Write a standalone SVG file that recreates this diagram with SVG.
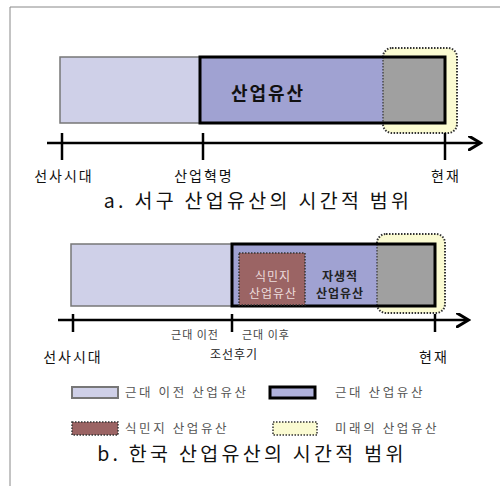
<svg xmlns="http://www.w3.org/2000/svg" width="500" height="486" viewBox="0 0 500 486">
<style>
.t{font-family:"Noto Sans CJK KR","Noto Sans",sans-serif;fill:#222}
.cap{font-family:"Noto Sans CJK KR","Liberation Sans",sans-serif;font-size:19.5px;letter-spacing:3.3px;fill:#111}
.lbl{font-size:14px;letter-spacing:2px;fill:#111}
.sm{font-size:11px;letter-spacing:1px;fill:#444}
.leg{font-size:12.5px;letter-spacing:2.6px;fill:#555}
.light{fill:#cfd0e8;stroke:#777;stroke-width:1.5}
.dark{fill:#a0a2d2}
.gray{fill:#a0a0a0}
.bord{fill:none;stroke:#000;stroke-width:3}
.fut{fill:#fbfbd2;stroke:#333;stroke-width:2;stroke-dasharray:1.5 1.5}
.dotv{stroke:#333;stroke-width:1.2;stroke-dasharray:1.5 1.5}
.col{fill:#9b6464;stroke:#333;stroke-width:1.5;stroke-dasharray:1.5 1.5}
.axis{stroke:#000;stroke-width:2.5;fill:none}
.tick{stroke:#000;stroke-width:2.5}
</style>
<defs>
<marker id="arr" markerWidth="6" markerHeight="6" refX="4" refY="3" orient="auto" markerUnits="strokeWidth">
<path d="M0,0 L5,3 L0,6" fill="none" stroke="#000" stroke-width="1.2"/>
</marker>
</defs>
<rect width="500" height="486" fill="#fff"/>
<path d="M10,486 V7 H500" fill="none" stroke="#888" stroke-width="1"/>

<g id="panel-a">
<g id="a-future"><rect class="fut" x="383" y="48" width="74" height="85" rx="9"/></g>
<g id="a-premodern"><rect class="light" x="60" y="57" width="140" height="66"/></g>
<g id="a-industrial">
<rect class="dark" x="200" y="57" width="245" height="66"/>
<rect class="gray" x="383" y="57" width="62" height="66"/>
<line class="dotv" x1="383" y1="57" x2="383" y2="123"/>
<rect class="bord" x="200" y="57" width="245" height="66"/>
<text class="t" x="268" y="100" font-size="18" font-weight="bold" letter-spacing="2" text-anchor="middle" style="fill:#111">산업유산</text>
</g>
<g id="a-axis">
<line class="axis" x1="47" y1="143" x2="478" y2="143" marker-end="url(#arr)"/>
<line class="tick" x1="62" y1="133" x2="62" y2="160"/>
<line class="tick" x1="203" y1="133" x2="203" y2="160"/>
<line class="tick" x1="445" y1="133" x2="445" y2="160"/>
</g>
<text class="t lbl" x="64" y="181" text-anchor="middle">선사시대</text>
<text class="t lbl" x="204" y="181" text-anchor="middle">산업혁명</text>
<text class="t lbl" x="446" y="181" text-anchor="middle">현재</text>
<text class="cap" x="258" y="208" text-anchor="middle">a. 서구 산업유산의 시간적 범위</text>
</g>

<g id="panel-b">
<g id="b-future"><rect class="fut" x="377" y="234" width="68" height="79" rx="9"/></g>
<g id="b-premodern"><rect class="light" x="71" y="244" width="161" height="62"/></g>
<g id="b-modern">
<rect class="dark" x="232" y="244" width="203" height="62"/>
<rect class="gray" x="377" y="244" width="58" height="62"/>
<line class="dotv" x1="377" y1="244" x2="377" y2="306"/>
<rect class="bord" x="232" y="244" width="203" height="62"/>
</g>
<g id="b-colonial">
<rect class="col" x="239" y="253" width="66" height="52"/>
<text class="t" x="273" y="281" font-size="12" letter-spacing="1" text-anchor="middle" style="fill:#ecdcdc">식민지</text>
<text class="t" x="273" y="298" font-size="12" letter-spacing="1" text-anchor="middle" style="fill:#ecdcdc">산업유산</text>
</g>
<g id="b-native">
<text class="t" x="340" y="281" font-size="12" font-weight="bold" letter-spacing="1" text-anchor="middle">자생적</text>
<text class="t" x="340" y="298" font-size="12" font-weight="bold" letter-spacing="1" text-anchor="middle">산업유산</text>
</g>
<g id="b-axis">
<line class="axis" x1="58" y1="320" x2="466" y2="320" marker-end="url(#arr)"/>
<line class="tick" x1="73" y1="314" x2="73" y2="332"/>
<line class="tick" x1="232" y1="314" x2="232" y2="332"/>
<line class="tick" x1="435" y1="314" x2="435" y2="332"/>
</g>
<text class="t sm" x="219" y="339" text-anchor="end">근대 이전</text>
<text class="t sm" x="242" y="339">근대 이후</text>
<text class="t lbl" x="73" y="362" text-anchor="middle" font-size="14">선사시대</text>
<text class="t" x="234" y="359" text-anchor="middle" font-size="12" letter-spacing="1">조선후기</text>
<text class="t lbl" x="434" y="362" text-anchor="middle" font-size="14">현재</text>

<g id="legend">
<rect class="light" x="72" y="387" width="46" height="11" style="stroke-width:2"/>
<text class="t leg" x="125" y="397">근대 이전 산업유산</text>
<rect x="270" y="387" width="45" height="11" fill="#b0b2dc" stroke="#000" stroke-width="3"/>
<text class="t leg" x="335" y="397">근대 산업유산</text>
<rect class="col" x="72" y="422" width="46" height="13"/>
<text class="t leg" x="125" y="433">식민지 산업유산</text>
<rect class="fut" x="273" y="422" width="44" height="13" rx="0" style="stroke-width:1.5"/>
<text class="t leg" x="335" y="433">미래의 산업유산</text>
</g>
<text class="cap" x="252" y="461" text-anchor="middle">b. 한국 산업유산의 시간적 범위</text>
</g>
</svg>
